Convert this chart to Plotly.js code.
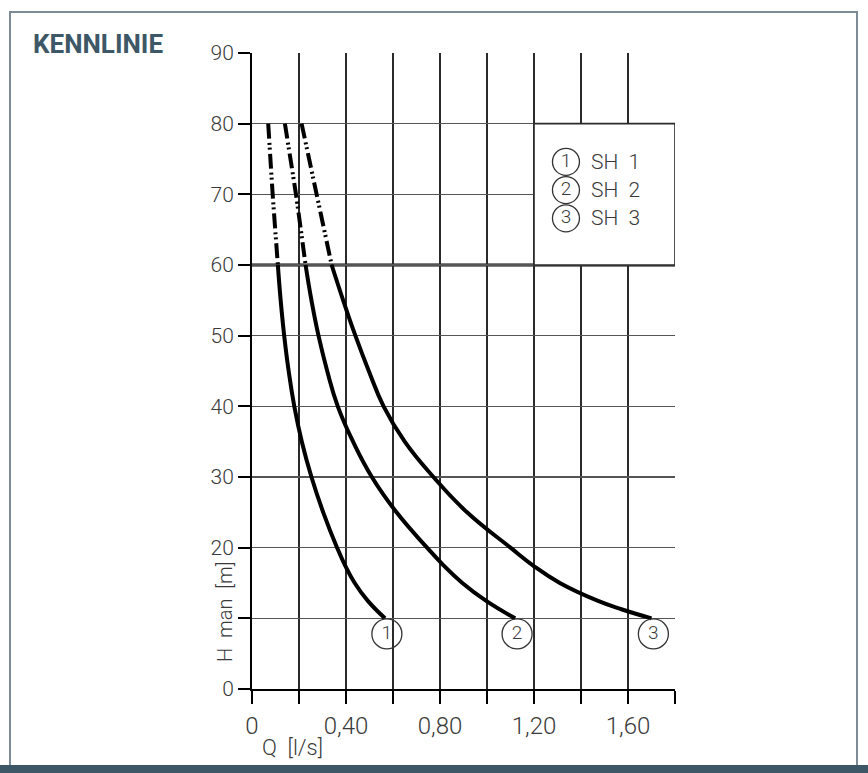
<!DOCTYPE html>
<html>
<head>
<meta charset="utf-8">
<script src="https://cdn.plot.ly/plotly-3.0.1.min.js"></script>
<style>
  html, body { margin: 0; padding: 0; background: #ffffff; }
  #wrap { position: relative; width: 868px; height: 773px; overflow: hidden; }
  #frame { position: absolute; left: 9px; top: 11px; width: 845px; height: 760px;
           border-top: 2px solid #7d8b96; border-left: 2px solid #7d8b96; border-right: 2px solid #7d8b96; }
  #band { position: absolute; left: 0; top: 765px; width: 868px; height: 8px; background: #3e5767; }
  #chart { position: absolute; left: 0; top: 0; width: 868px; height: 773px; }
</style>
</head>
<body>
<div id="wrap">
  <div id="frame"></div>
  <div id="band"></div>
  <div id="chart"></div>
</div>
<script>
// ---- data ----
const H_dash = [80, 70, 60];
const Q1_dash = [0.069, 0.088, 0.110];
const Q2_dash = [0.140, 0.187, 0.228];
const Q3_dash = [0.211, 0.275, 0.339];

const H1 = [60, 55, 50, 45, 40, 35, 30, 25, 20, 17.5, 15, 12.5, 10];
const Q1 = [0.110, 0.122, 0.137, 0.156, 0.180, 0.212, 0.253, 0.303, 0.362, 0.396, 0.437, 0.492, 0.566];

const H2 = [60, 55, 50, 45, 40, 35, 30, 25, 20, 17.5, 15, 12.5, 10];
const Q2 = [0.228, 0.253, 0.283, 0.320, 0.365, 0.430, 0.510, 0.615, 0.745, 0.815, 0.895, 0.995, 1.120];

const H3 = [60, 55, 50, 45, 40, 35, 30, 25, 20, 17.5, 15, 12.5, 11.25, 10];
const Q3 = [0.339, 0.388, 0.440, 0.497, 0.560, 0.650, 0.772, 0.915, 1.100, 1.195, 1.310, 1.470, 1.575, 1.700];

const curveLabels = ["1", "2", "3"];
const legendNames = ["SH  1", "SH  2", "SH  3"];

const xTickVals = [0, 0.2, 0.4, 0.6, 0.8, 1.0, 1.2, 1.4, 1.6, 1.8];
const xTickText = ["0", "", "0,40", "", "0,80", "", "1,20", "", "1,60", ""];
const yTickVals = [0, 10, 20, 30, 40, 50, 60, 70, 80, 90];
const yTickText = ["0", "", "20", "30", "40", "50", "60", "70", "80", "90"];

// ---- styling ----
const TECH = "Roboto, Liberation Sans, sans-serif";
const TXT = "#3a3a3a";
const dashPattern = "15px,4px,2px,3px,2px,4px";

const solids = [[Q1, H1], [Q2, H2], [Q3, H3]];
const dashes = [Q1_dash, Q2_dash, Q3_dash];

const traces = [];
dashes.forEach(q => traces.push({
  x: q, y: H_dash, type: "scatter", mode: "lines", hoverinfo: "skip",
  line: { color: "#000", width: 4, dash: dashPattern, shape: "spline", smoothing: 0.6 }
}));
solids.forEach(([q, h]) => traces.push({
  x: q, y: h, type: "scatter", mode: "lines", hoverinfo: "skip",
  line: { color: "#000", width: 4, shape: "spline", smoothing: 1.3 }
}));

// circled numbers at curve ends
const endQ = solids.map(([q]) => q[q.length - 1]);
const endH = solids.map(([, h]) => h[h.length - 1]);
traces.push({
  x: endQ.map(q => q + 0.008), y: endH.map(h => h - 2.2), type: "scatter", mode: "markers+text", hoverinfo: "skip",
  text: curveLabels, textposition: "middle center",
  textfont: { family: TECH, size: 19, weight: 300, color: TXT },
  marker: { symbol: "circle-open", size: 30, color: "#333", line: { width: 1.3, color: "#333" } }
});

// legend inside the box (Q 1.2–1.8, H 60–80)
const legRowH = [74.6, 70.6, 66.6];
traces.push({
  x: legRowH.map(() => 1.336), y: legRowH, type: "scatter", mode: "markers+text", hoverinfo: "skip",
  text: curveLabels, textposition: "middle center",
  textfont: { family: TECH, size: 19, weight: 300, color: TXT },
  marker: { symbol: "circle-open", size: 27, color: "#333", line: { width: 1.3, color: "#333" } }
});

const annotations = legRowH.map((h, i) => ({
  x: 1.435, y: h, xref: "x", yref: "y", xanchor: "left", yanchor: "middle",
  text: legendNames[i], showarrow: false, font: { family: TECH, size: 21, weight: 300, color: TXT }
}));
annotations.push({
  x: -0.064, y: 0.121, xref: "paper", yref: "paper", xanchor: "center", yanchor: "middle",
  text: "H  man  [m]", textangle: -90, showarrow: false, font: { family: TECH, size: 20, weight: 300, color: TXT }
});
annotations.push({
  x: 0.019, y: -0.092, xref: "paper", yref: "paper", xanchor: "left", yanchor: "middle",
  text: "Q  [l/s]", showarrow: false, font: { family: TECH, size: 22, weight: 300, color: TXT }
});

const layout = {
  width: 868, height: 773,
  margin: { l: 252, r: 193, t: 53, b: 84 },
  paper_bgcolor: "rgba(0,0,0,0)", plot_bgcolor: "#ffffff",
  showlegend: false,
  title: {
    text: "KENNLINIE", xref: "container", yref: "container",
    x: 33 / 868, xanchor: "left", y: 1 - 44 / 773, yanchor: "middle",
    font: { family: "Roboto, Open Sans, sans-serif", size: 26, weight: 700, color: "#3e5767" }
  },
  xaxis: {
    range: [0, 1.8], tickmode: "array", tickvals: xTickVals, ticktext: xTickText,
    showgrid: true, gridcolor: "#2a2a2a", gridwidth: 1.6,
    showline: true, linecolor: "#000", linewidth: 2, zeroline: false,
    ticks: "outside", ticklen: 13, tickwidth: 2, tickcolor: "#000",
    tickfont: { family: TECH, size: 24, weight: 300, color: TXT }, ticklabelstandoff: 1,
    fixedrange: true
  },
  yaxis: {
    range: [0, 90], tickmode: "array", tickvals: yTickVals, ticktext: yTickText,
    showgrid: true, gridcolor: "#555", gridwidth: 1.4,
    showline: true, linecolor: "#000", linewidth: 2, zeroline: false,
    ticks: "outside", ticklen: 12, tickwidth: 2, tickcolor: "#000",
    tickfont: { family: TECH, size: 21, weight: 300, color: TXT }, ticklabelstandoff: 0,
    fixedrange: true
  },
  shapes: [
    { type: "rect", xref: "x", yref: "y", x0: 1.2, x1: 1.8, y0: 60, y1: 80, layer: "between",
      fillcolor: "#ffffff", line: { color: "#2a2a2a", width: 1.6 } },
    { type: "line", xref: "paper", yref: "y", x0: 0, x1: 1, y0: 60, y1: 60, layer: "between",
      line: { color: "#000", width: 3 } }
  ],
  annotations: annotations
};

Plotly.newPlot("chart", traces, layout, { staticPlot: true, displayModeBar: false });
</script>
</body>
</html>
